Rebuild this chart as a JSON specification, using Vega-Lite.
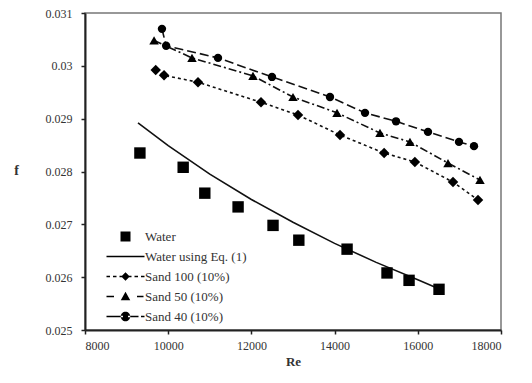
{
  "$schema": "https://vega.github.io/schema/vega-lite/v6.json",
  "width": 416,
  "height": 317,
  "autosize": {"type": "none"},
  "padding": {"left": 85, "top": 13, "right": 31, "bottom": 53},
  "background": "white",
  "config": {
    "font": "Liberation Serif",
    "view": {"stroke": "#777", "strokeWidth": 1.5},
    "axis": {"grid": false, "domainColor": "#222", "domainWidth": 2, "tickColor": "#222", "tickWidth": 1.5, "tickSize": 4, "labelFont": "Liberation Serif", "labelFontSize": 12, "labelColor": "#333", "titleFont": "Liberation Serif"},
    "legend": {"labelFont": "Liberation Serif", "titleFont": "Liberation Serif"}
  },
  "data": {"values": [
    {"series": "Water", "Re": 9320, "f": 0.02835},
    {"series": "Water", "Re": 10360, "f": 0.02808},
    {"series": "Water", "Re": 10880, "f": 0.02759},
    {"series": "Water", "Re": 11680, "f": 0.02733},
    {"series": "Water", "Re": 12520, "f": 0.02698},
    {"series": "Water", "Re": 13140, "f": 0.02670},
    {"series": "Water", "Re": 14300, "f": 0.02653},
    {"series": "Water", "Re": 15260, "f": 0.02608},
    {"series": "Water", "Re": 15790, "f": 0.02594},
    {"series": "Water", "Re": 16510, "f": 0.02577},
    {"series": "Water using Eq. (1)", "Re": 9274, "f": 0.02892},
    {"series": "Water using Eq. (1)", "Re": 10000, "f": 0.02849},
    {"series": "Water using Eq. (1)", "Re": 11000, "f": 0.02795},
    {"series": "Water using Eq. (1)", "Re": 12000, "f": 0.02747},
    {"series": "Water using Eq. (1)", "Re": 13000, "f": 0.02704},
    {"series": "Water using Eq. (1)", "Re": 14000, "f": 0.02664},
    {"series": "Water using Eq. (1)", "Re": 15000, "f": 0.02628},
    {"series": "Water using Eq. (1)", "Re": 16000, "f": 0.02595},
    {"series": "Water using Eq. (1)", "Re": 16420, "f": 0.02581},
    {"series": "Sand 100 (10%)", "Re": 9700, "f": 0.02992},
    {"series": "Sand 100 (10%)", "Re": 9900, "f": 0.02982},
    {"series": "Sand 100 (10%)", "Re": 10716, "f": 0.02969},
    {"series": "Sand 100 (10%)", "Re": 12231, "f": 0.02931},
    {"series": "Sand 100 (10%)", "Re": 13120, "f": 0.02907},
    {"series": "Sand 100 (10%)", "Re": 14130, "f": 0.02869},
    {"series": "Sand 100 (10%)", "Re": 15190, "f": 0.02835},
    {"series": "Sand 100 (10%)", "Re": 15930, "f": 0.02818},
    {"series": "Sand 100 (10%)", "Re": 16846, "f": 0.02780},
    {"series": "Sand 100 (10%)", "Re": 17447, "f": 0.02746},
    {"series": "Sand 50 (10%)", "Re": 9660, "f": 0.03048},
    {"series": "Sand 50 (10%)", "Re": 10572, "f": 0.03015},
    {"series": "Sand 50 (10%)", "Re": 12038, "f": 0.02981},
    {"series": "Sand 50 (10%)", "Re": 13000, "f": 0.02941},
    {"series": "Sand 50 (10%)", "Re": 14058, "f": 0.02911},
    {"series": "Sand 50 (10%)", "Re": 15091, "f": 0.02873},
    {"series": "Sand 50 (10%)", "Re": 15812, "f": 0.02856},
    {"series": "Sand 50 (10%)", "Re": 16726, "f": 0.02816},
    {"series": "Sand 50 (10%)", "Re": 17495, "f": 0.02784},
    {"series": "Sand 40 (10%)", "Re": 9850, "f": 0.03070},
    {"series": "Sand 40 (10%)", "Re": 9950, "f": 0.03038},
    {"series": "Sand 40 (10%)", "Re": 11197, "f": 0.03015},
    {"series": "Sand 40 (10%)", "Re": 12495, "f": 0.02979},
    {"series": "Sand 40 (10%)", "Re": 13889, "f": 0.02941},
    {"series": "Sand 40 (10%)", "Re": 14731, "f": 0.02911},
    {"series": "Sand 40 (10%)", "Re": 15476, "f": 0.02895},
    {"series": "Sand 40 (10%)", "Re": 16245, "f": 0.02875},
    {"series": "Sand 40 (10%)", "Re": 16990, "f": 0.02856},
    {"series": "Sand 40 (10%)", "Re": 17351, "f": 0.02848}
  ]},
  "encoding": {
    "x": {"field": "Re", "type": "quantitative", "scale": {"domain": [8000, 18000], "nice": false, "zero": false},
      "axis": {"values": [8000, 10000, 12000, 14000, 16000, 18000], "format": "d", "title": "Re", "titleFontSize": 13, "titleFontWeight": "bold", "titleColor": "#333", "labelPadding": 6, "titlePadding": 4}},
    "y": {"field": "f", "type": "quantitative", "scale": {"domain": [0.025, 0.031], "nice": false, "zero": false},
      "axis": {"values": [0.025, 0.026, 0.027, 0.028, 0.029, 0.03, 0.031], "format": ".3~f", "title": "f", "titleAngle": 0, "titleFontSize": 14, "titleFontWeight": "bold", "titleColor": "#333", "titleX": -69, "titleY": 157, "titleAlign": "center", "titleBaseline": "middle", "labelPadding": 9}}
  },
  "layer": [
    {
      "transform": [{"filter": "datum.series === 'Water using Eq. (1)'"}],
      "mark": {"type": "line", "color": "#111", "strokeWidth": 1.6}
    },
    {
      "transform": [{"filter": "indexof(datum.series, 'Sand') === 0"}],
      "mark": {"type": "line", "color": "#111", "strokeWidth": 1.6},
      "encoding": {
        "detail": {"field": "series"},
        "strokeDash": {"field": "series", "type": "nominal", "legend": null,
          "scale": {"domain": ["Sand 100 (10%)", "Sand 50 (10%)", "Sand 40 (10%)"], "range": [[3, 3], [8, 3, 2, 3], [9, 4]]}}
      }
    },
    {
      "transform": [{"filter": "datum.series !== 'Water using Eq. (1)'"}],
      "mark": {"type": "point", "filled": true, "color": "#000", "opacity": 1},
      "encoding": {
        "shape": {"field": "series", "type": "nominal", "legend": null,
          "scale": {"domain": ["Water", "Sand 100 (10%)", "Sand 50 (10%)", "Sand 40 (10%)"], "range": ["square", "diamond", "triangle-up", "circle"]}},
        "size": {"field": "series", "type": "nominal", "legend": null,
          "scale": {"domain": ["Water", "Sand 100 (10%)", "Sand 50 (10%)", "Sand 40 (10%)"], "range": [130, 70, 70, 90]}}
      }
    },
    {
      "mark": {"type": "point", "filled": true, "color": "#000", "opacity": 0},
      "encoding": {
        "shape": {"field": "series", "type": "nominal",
          "scale": {"domain": ["Water", "Water using Eq. (1)", "Sand 100 (10%)", "Sand 50 (10%)", "Sand 40 (10%)"],
            "range": [
              "M-1,-1H1V1H-1Z",
              "M-3.8,-0.16H3.8V0.16H-3.8Z",
              "M-3.8,-0.16H-3.1V0.16H-3.8Z M-2.5,-0.16H-1.8V0.16H-2.5Z M-1.2,-0.16H1.2V0.16H-1.2Z M0,-0.85L0.85,0L0,0.85L-0.85,0Z M1.8,-0.16H2.5V0.16H1.8Z M3.1,-0.16H3.8V0.16H3.1Z",
              "M-3.8,-0.16H-2.3V0.16H-3.8Z M0,-0.95L0.95,0.75L-0.95,0.75Z M2.3,-0.16H3.6V0.16H2.3Z",
              "M-3.8,-0.16H-0.5V0.16H-3.8Z M-0.95,0A0.95,0.95 0 1,0 0.95,0A0.95,0.95 0 1,0 -0.95,0Z M0.5,-0.16H2.6V0.16H0.5Z M3.1,-0.16H3.8V0.16H3.1Z"
            ]},
          "legend": {"title": null, "orient": "none", "legendX": 34, "legendY": 217, "labelFont": "Liberation Serif", "labelFontSize": 13, "labelColor": "#333", "labelOffset": 13, "rowPadding": 6, "symbolSize": 100, "symbolOpacity": 1, "symbolFillColor": "#000", "symbolStrokeColor": "#000", "symbolStrokeWidth": 0}
        },
        "size": {"value": 100}
      }
    }
  ],
  "resolve": {"scale": {"shape": "independent", "size": "independent"}, "legend": {"shape": "independent"}}
}
